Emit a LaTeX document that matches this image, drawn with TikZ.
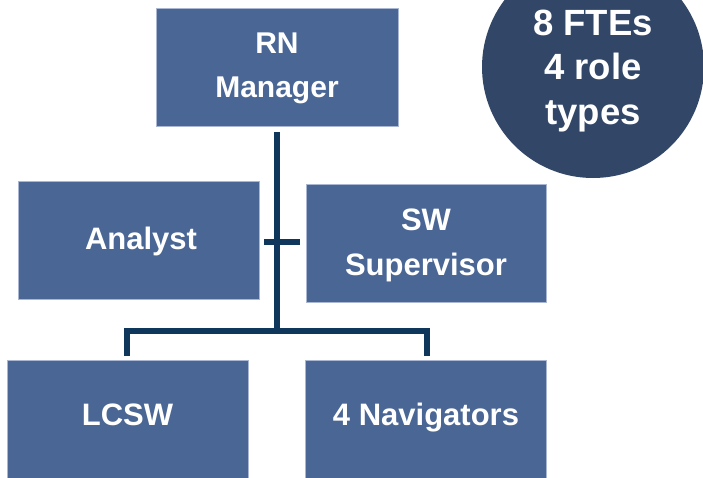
\documentclass[tikz,border=0pt]{standalone}
\usepackage{fontspec}
\setmainfont{Liberation Sans}
\definecolor{boxblue}{HTML}{4A6694}
\definecolor{boxedge}{HTML}{A9B7D2}
\definecolor{circblue}{HTML}{324667}
\definecolor{linenavy}{HTML}{0F375C}
\tikzset{
  rolebox/.style={rectangle, fill=boxblue, draw=boxedge, line width=0.8pt,
    minimum height=118pt, inner sep=0pt},
  roletext/.style={text=white, font=\bfseries\fontsize{31}{45}\selectfont,
    align=center, inner sep=0pt, anchor=base},
  badge/.style={circle, fill=circblue, draw=none, inner sep=0pt},
  badgetext/.style={text=white, font=\bfseries\fontsize{36.5}{44.5}\selectfont,
    align=center, inner sep=0pt, anchor=base},
  orgline/.style={draw=linenavy, line width=6pt}
}
\begin{document}
\begin{tikzpicture}[x=1pt,y=-1pt]
\useasboundingbox (0,0) rectangle (703,477);
\fill[white] (0,0) rectangle (703,477);
% boxes
\node[rolebox, minimum width=242pt] (rn) at (277,67) {};
\node[rolebox, minimum width=241pt] (an) at (138.5,240) {};
\node[rolebox, minimum width=240pt] (sw) at (426,243) {};
\node[rolebox, minimum width=241pt] (lc) at (127.5,419) {};
\node[rolebox, minimum width=241pt] (nv) at (425.5,419) {};
% texts (base = baseline of last line)
\node[roletext, font=\bfseries\fontsize{30}{44}\selectfont] (rnt) at (277,97) {RN\\Manager};
\node[roletext] (ant) at (141,249) {Analyst};
\node[roletext] (swt) at (426,275) {SW\\Supervisor};
\node[roletext] (lct) at (127.5,425) {LCSW};
\node[roletext] (nvt) at (426,425) {4 Navigators};
% badge
\node[badge, minimum size=222pt] (bd) at (593,67) {};
\node[badgetext] (bdt) at (593,124) {8 FTEs\\4 role\\types};
% connectors
\coordinate (jn) at (277,331);
\coordinate (sl) at (264,242);
\coordinate (sr) at (300,242);
\coordinate (dl) at (127,356);
\coordinate (dr) at (427,356);
\draw[orgline, shorten <=6pt] (rn.south) -- (jn);
\draw[orgline] (sl) -- (sr);
\draw[orgline] (dl) -- (dl |- jn) -- (dr |- jn) -- (dr);
\end{tikzpicture}
\end{document}
